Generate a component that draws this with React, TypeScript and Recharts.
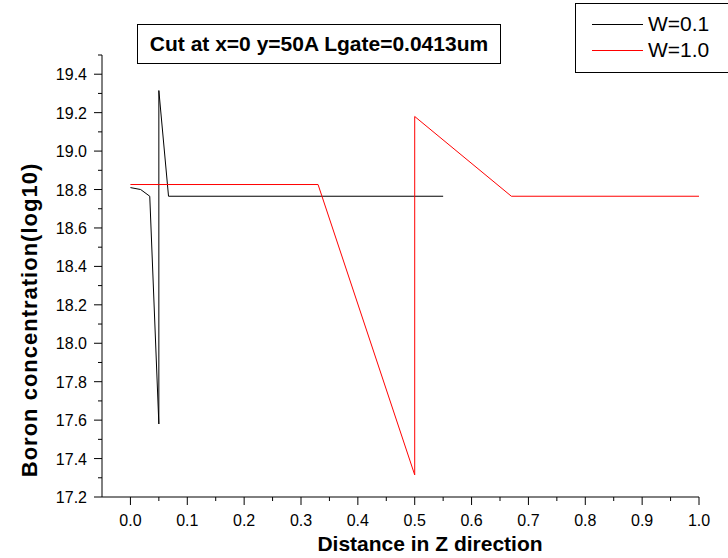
import React from "react";
import { LineChart, Line, XAxis, YAxis } from "recharts";

// distance along Z and boron concentration (log10)
const w01Z = [0, 0.018, 0.034, 0.05, 0.05, 0.067, 0.55];
const w01B = [18.81, 18.8, 18.765, 17.58, 19.315, 18.765, 18.765];
const w10Z = [0, 0.33, 0.5, 0.5, 0.67, 1.0];
const w10B = [18.826, 18.826, 17.315, 19.18, 18.765, 18.765];

const xTicks = [0, 0.05, 0.1, 0.15, 0.2, 0.25, 0.3, 0.35, 0.4, 0.45, 0.5, 0.55, 0.6, 0.65, 0.7, 0.75, 0.8, 0.85, 0.9, 0.95, 1.0];
const yTicks = [17.2, 17.3, 17.4, 17.5, 17.6, 17.7, 17.8, 17.9, 18.0, 18.1, 18.2, 18.3, 18.4, 18.5, 18.6, 18.7, 18.8, 18.9, 19.0, 19.1, 19.2, 19.3, 19.4, 19.5];

const FONT = "'Liberation Sans', Arial, sans-serif";

const w01 = w01Z.map((x, i) => ({ x, y: w01B[i] }));
const w10 = w10Z.map((x, i) => ({ x, y: w10B[i] }));

function XTick(props: any) {
  const { x, y, payload } = props;
  const v = payload.value as number;
  const major = Math.round(v * 100) % 10 === 0;
  return (
    <g>
      <line x1={x} x2={x} y1={y} y2={y + (major ? 8 : 4)} stroke="#000" />
      {major && (
        <text x={x} y={y + 29} textAnchor="middle" fontSize={16} fontFamily={FONT} fill="#000">
          {v.toFixed(1)}
        </text>
      )}
    </g>
  );
}

function YTick(props: any) {
  const { x, y, payload } = props;
  const v = payload.value as number;
  const major = Math.round(v * 10) % 2 === 0;
  return (
    <g>
      <line x1={x} x2={x - (major ? 8 : 4)} y1={y} y2={y} stroke="#000" />
      {major && (
        <text x={x - 15} y={y + 6} textAnchor="end" fontSize={16} fontFamily={FONT} fill="#000">
          {v.toFixed(1)}
        </text>
      )}
    </g>
  );
}

export default function App() {
  return (
    <div style={{ position: "absolute", left: 0, top: 0, width: 728, height: 558, background: "#fff", fontFamily: FONT, overflow: "hidden" }}>
      <LineChart width={728} height={558} margin={{ top: 55, right: 29, left: 42, bottom: 21 }}>
        <XAxis
          type="number"
          dataKey="x"
          domain={[-0.05, 1.0]}
          ticks={xTicks}
          interval={0}
          tick={<XTick />}
          tickSize={0}
          tickMargin={0}
          tickLine={false}
          axisLine={{ stroke: "#000" }}
          height={40}
          allowDataOverflow
        />
        <YAxis
          type="number"
          domain={[17.2, 19.5]}
          ticks={yTicks}
          interval={0}
          tick={<YTick />}
          tickSize={0}
          tickMargin={0}
          tickLine={false}
          axisLine={{ stroke: "#000" }}
          width={60}
          allowDataOverflow
        />
        <Line data={w01} dataKey="y" stroke="#000" strokeWidth={1} dot={false} type="linear" isAnimationActive={false} />
        <Line data={w10} dataKey="y" stroke="#ff0000" strokeWidth={1} dot={false} type="linear" isAnimationActive={false} />
      </LineChart>

      <div
        style={{
          position: "absolute", left: 137, top: 24, width: 362, height: 38, border: "1px solid #000",
          display: "flex", alignItems: "center", justifyContent: "center",
          fontSize: 21, fontWeight: 700, whiteSpace: "nowrap",
        }}
      >
        Cut at x=0 y=50A Lgate=0.0413um
      </div>

      <div style={{ position: "absolute", left: 575, top: 3, width: 170, height: 68, border: "1px solid #000" }}>
        <div style={{ position: "absolute", left: 16, top: 20, width: 51, borderTop: "1px solid #000" }} />
        <div style={{ position: "absolute", left: 72, top: 8, fontSize: 21, lineHeight: "24px" }}>W=0.1</div>
        <div style={{ position: "absolute", left: 16, top: 46, width: 51, borderTop: "1px solid #ff0000" }} />
        <div style={{ position: "absolute", left: 72, top: 34, fontSize: 21, lineHeight: "24px" }}>W=1.0</div>
      </div>

      <div style={{ position: "absolute", left: 430, top: 544, transform: "translate(-50%, -50%)", fontSize: 21, fontWeight: 700, whiteSpace: "nowrap" }}>
        Distance in Z direction
      </div>
      <div
        style={{
          position: "absolute", left: 30, top: 320, transform: "translate(-50%, -50%) rotate(-90deg)",
          fontSize: 22, fontWeight: 700, letterSpacing: 1, whiteSpace: "nowrap",
        }}
      >
        Boron concentration(log10)
      </div>
    </div>
  );
}
